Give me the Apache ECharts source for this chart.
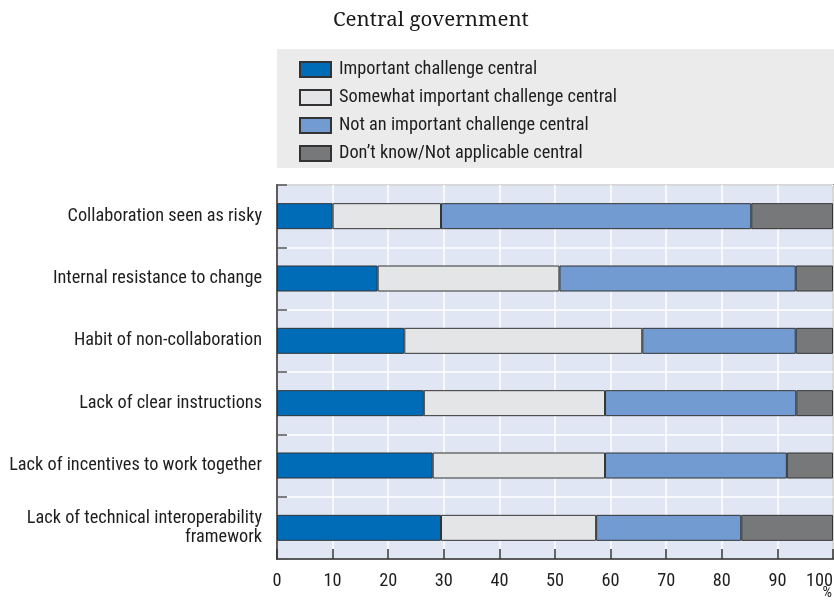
<!DOCTYPE html>
<html>
<head>
<meta charset="utf-8">
<script src="https://cdn.jsdelivr.net/npm/echarts@6/dist/echarts.min.js"></script>
<style>
  html, body { margin: 0; padding: 0; background: #ffffff; }
  #chart { width: 834px; height: 608px; }
</style>
</head>
<body>
<div id="chart"></div>
<script>
// Challenges to collaboration reported by central government bodies (% of respondents)
const categories = [
  'Collaboration seen as risky',
  'Internal resistance to change',
  'Habit of non-collaboration',
  'Lack of clear instructions',
  'Lack of incentives to work together',
  'Lack of technical interoperability\nframework'
];
const important      = [10.0, 18.1, 22.9, 26.4, 28.0, 29.5];
const somewhat       = [19.5, 32.7, 42.8, 32.6, 31.0, 27.9];
const notImportant   = [55.8, 42.5, 27.6, 34.4, 32.7, 26.1];
const dontKnow       = [14.7,  6.7,  6.7,  6.6,  8.3, 16.5];
const seriesNames = [
  'Important challenge central',
  'Somewhat important challenge central',
  'Not an important challenge central',
  'Don\u2019t know/Not applicable central'
];
const xTicks = [0, 10, 20, 30, 40, 50, 60, 70, 80, 90, 100];

const narrow = '"Roboto Condensed", "Liberation Sans Narrow", sans-serif';
const colors = ['#006bb6', '#e4e5e6', '#729bd1', '#777879'];
const values = [important, somewhat, notImportant, dontKnow];

const chart = echarts.init(document.getElementById('chart'), null, { renderer: 'canvas' });

chart.setOption({
  animation: false,
  backgroundColor: '#ffffff',
  title: {
    text: 'Central government',
    left: 328,
    top: 5,
    textStyle: {
      fontFamily: '"Noto Serif", "DejaVu Serif", serif',
      fontWeight: 'normal',
      fontSize: 20.5,
      color: '#1a1a1a'
    }
  },
  graphic: [
    {
      type: 'rect',
      z: -1,
      shape: { x: 277, y: 49, width: 557, height: 119 },
      style: { fill: '#ebebeb' }
    },
    {
      type: 'text',
      z: 10,
      style: {
        x: 832,
        y: 601,
        text: '%',
        align: 'right',
        verticalAlign: 'bottom',
        font: '15px ' + narrow,
        fill: '#222222'
      }
    }
  ],
  legend: {
    orient: 'vertical',
    left: 299,
    top: 60.5,
    padding: 0,
    icon: 'rect',
    itemWidth: 31,
    itemHeight: 15,
    itemGap: 10,
    data: seriesNames,
    textStyle: {
      fontFamily: narrow,
      fontSize: 18.3,
      lineHeight: 18,
      color: '#1e1e1e',
      padding: [0, 0, 0, 3]
    }
  },
  grid: {
    left: 277,
    right: 1,
    top: 185,
    bottom: 49,
    show: true,
    backgroundColor: '#e0e6f4',
    borderColor: '#333333',
    borderWidth: 1.5,
    outerBoundsMode: 'none',
    containLabel: false
  },
  xAxis: {
    type: 'value',
    min: 0,
    max: 100,
    interval: 10,
    axisLine: { show: true, lineStyle: { color: '#333333', width: 1.5 } },
    axisTick: { show: true, inside: true, length: 10, lineStyle: { color: '#333333', width: 1.5 } },
    splitLine: { show: true, lineStyle: { color: '#ffffff', width: 1.5 } },
    axisLabel: {
      margin: 13,
      fontFamily: narrow,
      fontSize: 18.3,
      color: '#1e1e1e',
      alignMaxLabel: 'right',
      formatter: function (v) { return xTicks.indexOf(v) >= 0 ? String(v) : ''; }
    }
  },
  yAxis: {
    type: 'category',
    inverse: true,
    data: categories,
    axisLine: { show: true, lineStyle: { color: '#333333', width: 1.5 } },
    axisTick: { show: true, inside: true, length: 10, lineStyle: { color: '#555555', width: 1.5 } },
    splitLine: { show: true, lineStyle: { color: '#ffffff', width: 1.5 } },
    axisLabel: {
      margin: 15,
      fontFamily: narrow,
      fontSize: 18.3,
      lineHeight: 19,
      color: '#1e1e1e',
      align: 'right'
    }
  },
  series: seriesNames.map(function (name, i) {
    return {
      name: name,
      type: 'bar',
      stack: 'total',
      barWidth: 26,
      data: values[i],
      itemStyle: {
        color: colors[i],
        borderColor: '#333333',
        borderWidth: 1
      }
    };
  })
});
</script>
</body>
</html>
